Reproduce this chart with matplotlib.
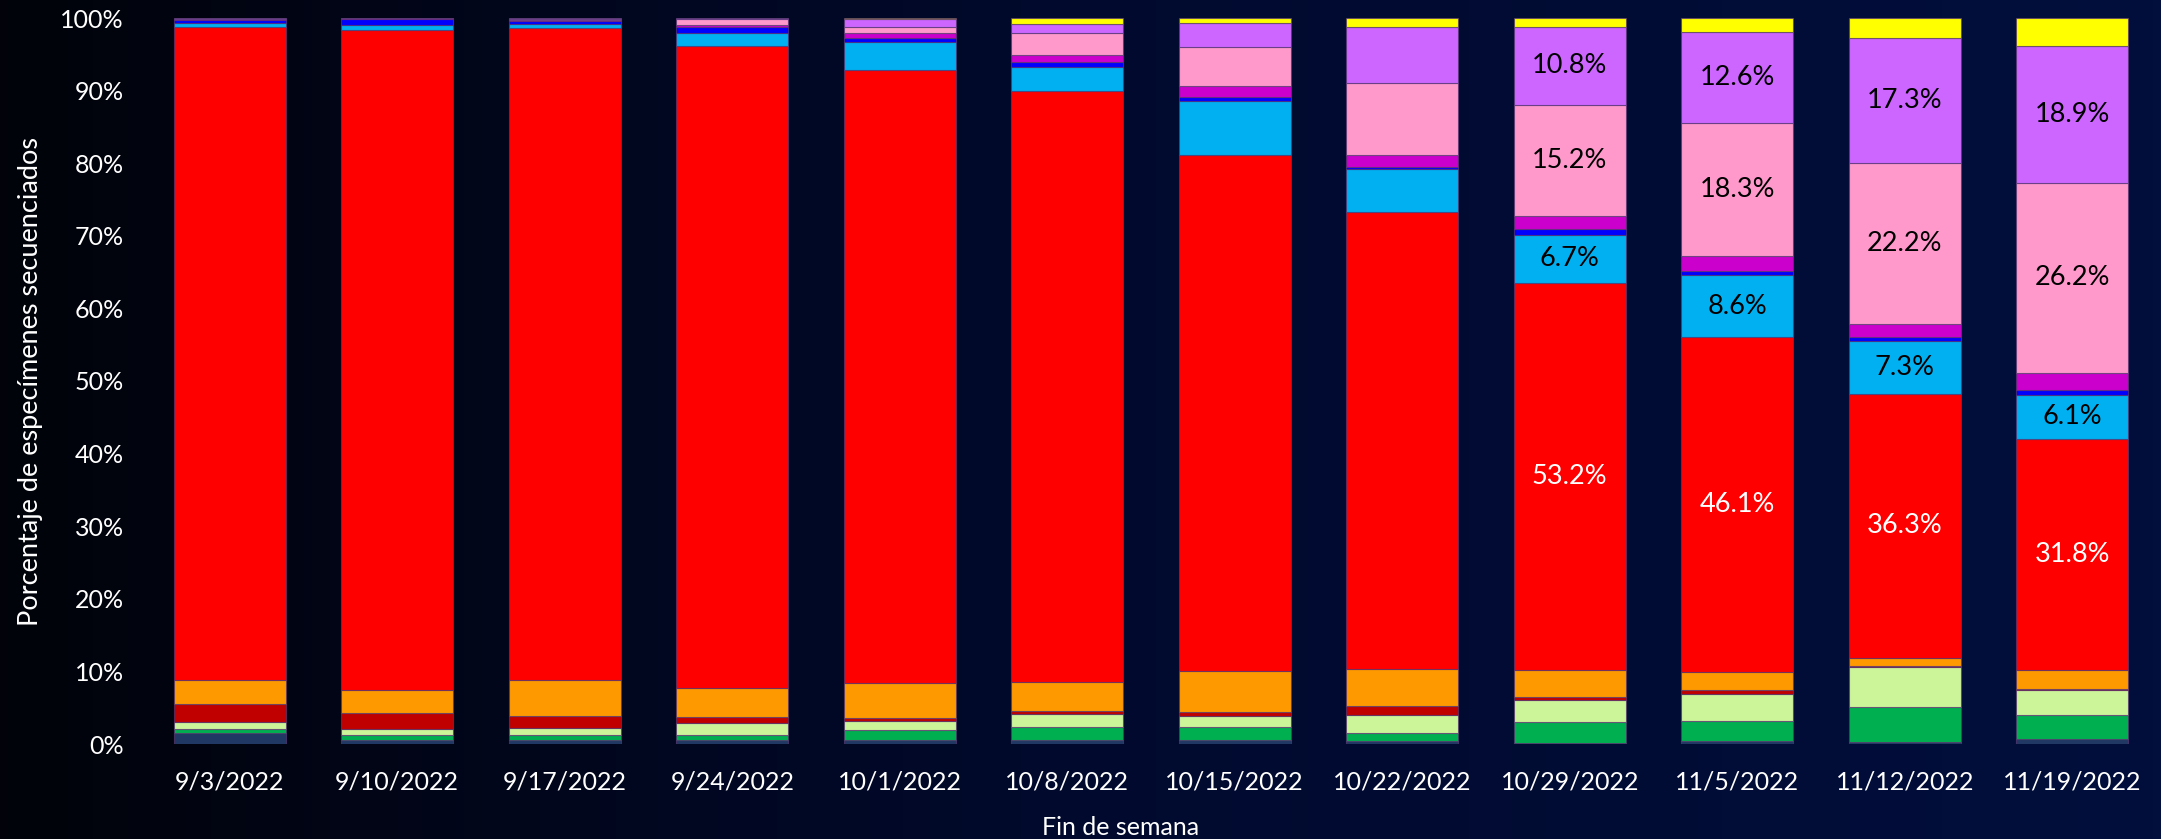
import numpy as np
import matplotlib.pyplot as plt
from matplotlib.colors import LinearSegmentedColormap

plt.rcParams['font.family'] = ['Lato', 'DejaVu Sans']

# Semanas (fin de semana)
weeks = ['9/3/2022', '9/10/2022', '9/17/2022', '9/24/2022', '10/1/2022', '10/8/2022',
         '10/15/2022', '10/22/2022', '10/29/2022', '11/5/2022', '11/12/2022', '11/19/2022']

# Porcentajes por serie, de abajo hacia arriba
navy = [1.5, 0.6, 0.5, 0.6, 0.5, 0.6, 0.5, 0.4, 0.2, 0.4, 0.3, 0.7]
green = [0.5, 0.6, 0.7, 0.7, 1.4, 1.7, 1.9, 1.1, 2.8, 2.8, 4.8, 3.3]
light_green = [1.0, 0.8, 1.0, 1.6, 1.3, 1.9, 1.5, 2.5, 3.0, 3.7, 5.5, 3.4]
dark_red = [2.5, 2.3, 1.6, 0.8, 0.4, 0.3, 0.5, 1.3, 0.5, 0.5, 0.2, 0.2]
orange = [3.3, 3.2, 5.0, 4.0, 4.8, 4.1, 5.7, 5.0, 3.7, 2.5, 1.1, 2.6]
red = [90.0, 90.9, 89.8, 88.4, 84.5, 81.3, 71.0, 63.1, 53.2, 46.1, 36.3, 31.8]
light_blue = [0.5, 0.7, 0.6, 1.9, 3.8, 3.4, 7.5, 5.9, 6.7, 8.6, 7.3, 6.1]
blue = [0.4, 0.8, 0.4, 0.8, 0.5, 0.6, 0.5, 0.4, 0.7, 0.6, 0.5, 0.6]
magenta = [0.1, 0.1, 0.1, 0.2, 0.7, 1.0, 1.5, 1.6, 1.9, 2.0, 1.8, 2.4]
pink = [0.1, 0.0, 0.2, 0.9, 0.9, 3.0, 5.4, 9.9, 15.2, 18.3, 22.2, 26.2]
lavender = [0.1, 0.0, 0.1, 0.1, 1.1, 1.3, 3.3, 7.8, 10.8, 12.6, 17.3, 18.9]
yellow = [0.0, 0.0, 0.0, 0.0, 0.1, 0.8, 0.7, 1.2, 1.2, 1.9, 2.7, 3.8]

series = [navy, green, light_green, dark_red, orange, red, light_blue,
          blue, magenta, pink, lavender, yellow]
colors = ['#203864', '#00b050', '#ccf59a', '#c00000', '#ff9900', '#ff0000', '#00b0f0',
          '#0000ff', '#cc00cc', '#ff99cc', '#cc66ff', '#ffff00']
label_colors = {5: 'white', 6: 'black', 9: 'black', 10: 'black'}

data = np.array(series, dtype=float)
data = data / data.sum(axis=0) * 100

fig = plt.figure(figsize=(21.61, 8.39), dpi=100)

# fondo degradado
bg = fig.add_axes([0, 0, 1, 1], zorder=-1)
cmap = LinearSegmentedColormap.from_list('bg', ['#02030a', '#010a2e', '#020f3c'])
bg.imshow(np.linspace(0, 1, 256).reshape(1, -1), aspect='auto', cmap=cmap,
          extent=[0, 1, 0, 1])
bg.axis('off')

ax = fig.add_axes([146 / 2161, 1 - 744 / 839, (2156 - 146) / 2161, (744 - 18) / 839])
ax.patch.set_alpha(0)

x = np.arange(len(weeks))
bottom = np.zeros(len(weeks))
for i, vals in enumerate(data):
    ax.bar(x, vals, 0.67, bottom=bottom, color=colors[i],
           edgecolor=(0.35, 0.22, 0.45, 0.7), linewidth=0.8)
    if i in label_colors:
        for j in range(8, len(weeks)):
            if series[i][j] >= 6:
                ax.text(x[j], bottom[j] + vals[j] / 2, f'{series[i][j]:.1f}%',
                        ha='center', va='center', fontsize=19.5, color=label_colors[i])
    bottom += vals

ax.set_xlim(-0.5, len(weeks) - 0.5)
ax.set_ylim(0, 100)
ax.set_yticks(range(0, 101, 10))
ax.set_yticklabels([f'{v}%' for v in range(0, 101, 10)])
ax.set_xticks(x)
ax.set_xticklabels(weeks)
ax.tick_params(axis='y', length=0, pad=16, labelsize=18, labelcolor='white')
ax.tick_params(axis='x', length=0, pad=19, labelsize=18, labelcolor='white')
for s in ax.spines.values():
    s.set_visible(False)

ax.set_xlabel('Fin de semana', fontsize=18, color='white')
ax.xaxis.set_label_coords(0.485, -0.099)
ax.set_ylabel('Porcentaje de especímenes secuenciados', fontsize=19.5, color='white', labelpad=12)

fig.savefig('out.png', dpi=100)
